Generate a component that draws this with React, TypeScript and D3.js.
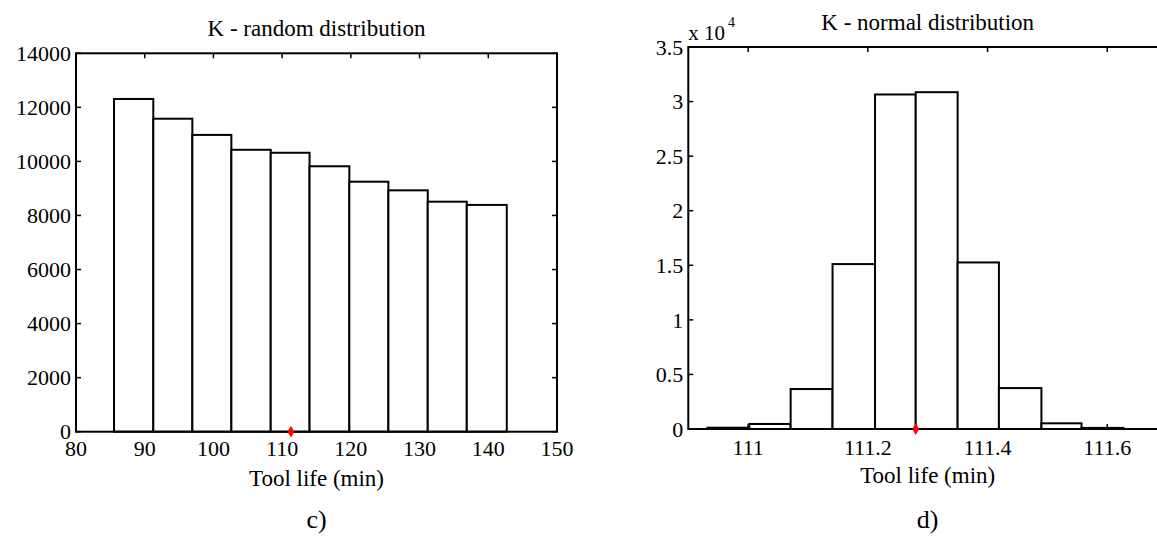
import React from 'react';
import * as d3 from 'd3';

// histogram c) - K random
const randomEdges = [85.53, 91.25, 96.93, 102.61, 108.34, 113.99, 119.78, 125.46, 131.19, 136.87, 142.69];
const randomCounts = [12310, 11580, 10980, 10430, 10320, 9820, 9250, 8930, 8510, 8390];
const randomXTicks = [80, 90, 100, 110, 120, 130, 140, 150];
const randomYTicks = [0, 2000, 4000, 6000, 8000, 10000, 12000, 14000];

// histogram d) - K normal (counts in units of 10^4)
const normalEdges = [110.932, 111.002, 111.071, 111.141, 111.212, 111.28, 111.35, 111.419, 111.49, 111.557, 111.627];
const normalCounts = [0.012, 0.046, 0.366, 1.511, 3.065, 3.086, 1.526, 0.375, 0.052, 0.01];
const normalXTicks = [111, 111.2, 111.4, 111.6];
const normalYTicks = [0, 0.5, 1, 1.5, 2, 2.5, 3, 3.5];

const nominalK = 111.28;

const FONT = '"Liberation Serif"';
const TICK = 5;

type PanelProps = {
  edges: number[];
  counts: number[];
  xDomain: [number, number];
  yDomain: [number, number];
  xRange: [number, number];
  yRange: [number, number];
  xTicks: number[];
  yTicks: number[];
  title: string;
  caption: string;
  xLabelGap: number;
  exponent?: boolean;
};

const txt = (size: number) => ({ fontFamily: FONT, fontSize: size + 'px' });

function Panel(p: PanelProps) {
  const x = d3.scaleLinear().domain(p.xDomain).range(p.xRange);
  const y = d3.scaleLinear().domain(p.yDomain).range(p.yRange);
  const [x0, x1] = p.xRange;
  const [y0, y1] = p.yRange; // y0 bottom, y1 top
  const cx = (x0 + x1) / 2;
  const bins = p.counts.map((c, i) => ({ a: p.edges[i], b: p.edges[i + 1], c }));
  const marker = d3.symbol(d3.symbolDiamond, 40)();

  return (
    <g fill="#000">
      {/* bottom ticks sit under the bars */}
      {p.xTicks.map(t => (
        <line key={'b' + t} x1={x(t)} x2={x(t)} y1={y0} y2={y0 - TICK} stroke="#000" strokeWidth={1.5} />
      ))}
      {bins.map((d, i) => (
        <rect
          key={i}
          x={x(d.a)}
          y={y(d.c)}
          width={x(d.b) - x(d.a)}
          height={y0 - y(d.c)}
          fill="#fff"
          stroke="#000"
          strokeWidth={2}
        />
      ))}
      {p.xTicks.map(t => (
        <line key={'t' + t} x1={x(t)} x2={x(t)} y1={y1} y2={y1 + TICK} stroke="#000" strokeWidth={1.5} />
      ))}
      {p.yTicks.map(t => (
        <g key={'y' + t}>
          <line x1={x0} x2={x0 + TICK} y1={y(t)} y2={y(t)} stroke="#000" strokeWidth={1.5} />
          <line x1={x1} x2={x1 - TICK} y1={y(t)} y2={y(t)} stroke="#000" strokeWidth={1.5} />
          <text x={x0 - 5} y={y(t)} dy="0.35em" textAnchor="end" style={txt(22)}>
            {String(t)}
          </text>
        </g>
      ))}
      <rect x={x0} y={y1} width={x1 - x0} height={y0 - y1} fill="none" stroke="#000" strokeWidth={2} />
      {p.xTicks.map(t => (
        <text key={'l' + t} x={x(t)} y={y0 + p.xLabelGap} textAnchor="middle" style={txt(22)}>
          {String(t)}
        </text>
      ))}
      <path d={marker ?? ''} transform={`translate(${x(nominalK)},${y0})`} fill="#f00" />
      {p.exponent && (
        <text x={x0} y={y1 - 7} style={txt(21)}>
          x 10
          <tspan style={txt(14)} dy={-13} dx={3}>4</tspan>
        </text>
      )}
      <text x={cx} y={y1 - 17} textAnchor="middle" style={txt(23)}>
        {p.title}
      </text>
      <text x={cx} y={y0 + 54} textAnchor="middle" style={txt(23)}>
        Tool life (min)
      </text>
      <text x={cx} y={528} textAnchor="middle" style={txt(26)}>
        {p.caption}
      </text>
    </g>
  );
}

export default function App() {
  return (
    <svg
      width={1157}
      height={537}
      style={{ position: 'fixed', left: 0, top: 0, background: '#fff' }}
    >
      <rect width={1157} height={537} fill="#fff" />
      <Panel
        edges={randomEdges}
        counts={randomCounts}
        xDomain={[80, 150]}
        yDomain={[0, 14000]}
        xRange={[76, 557]}
        yRange={[431.7, 53.3]}
        xTicks={randomXTicks}
        yTicks={randomYTicks}
        title="K - random distribution"
        caption="c)"
        xLabelGap={24}
      />
      <Panel
        edges={normalEdges}
        counts={normalCounts}
        xDomain={[110.9, 111.7]}
        yDomain={[0, 3.5]}
        xRange={[688.3, 1167.1]}
        yRange={[429, 47]}
        xTicks={normalXTicks}
        yTicks={normalYTicks}
        title="K - normal distribution"
        caption="d)"
        xLabelGap={26}
        exponent
      />
    </svg>
  );
}
